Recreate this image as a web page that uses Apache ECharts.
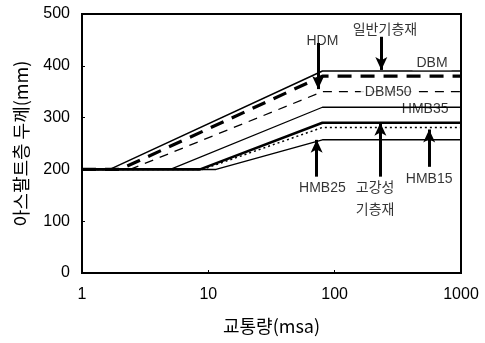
<!DOCTYPE html>
<html><head><meta charset="utf-8">
<script src="https://cdn.jsdelivr.net/npm/echarts@6/dist/echarts.min.js"></script>
<style>html,body{margin:0;padding:0;background:#fff}#c{width:485px;height:343px}</style>
</head><body><div id="c"></div>
<script>
// Data (traffic in msa, thickness in mm)
const xTicks = ['1', '10', '100', '1000'];
const dbmX = [1, 1.66, 80, 1000];      const dbmY = [200, 200, 390, 390];
const hdmX = [1, 2.0, 80, 1000];       const hdmY = [200, 200, 380, 380];
const dbm50X = [1, 2.4, 80, 1000];     const dbm50Y = [200, 200, 350, 350];
const hmb35X = [1, 5.0, 80, 1000];     const hmb35Y = [200, 200, 320, 320];
const hiX = [1, 8.6, 80, 1000];        const hiY = [200, 200, 290, 290];
const hmb15X = [1, 9.0, 80, 1000];     const hmb15Y = [200, 200, 281, 281];
const hmb25X = [1, 11.5, 80, 1000];    const hmb25Y = [200, 200, 257, 257];

const labelNames = ['HDM', '일반기층재', 'DBM', 'DBM50', 'HMB35', 'HMB25', '고강성', '기층재', 'HMB15'];
const labelX = [80, 250, 590, 265, 520, 80, 209, 209, 560];
const labelY = [448, 469, 405, 350, 317, 164, 164, 122, 181];
const labelBg = [false, false, true, true, false, false, false, false, false];

const arrowX = [74, 234, 72, 230, 560];
const arrowFromY = [444, 456, 186, 186, 205];
const arrowToY = [355, 392, 257, 290, 277];

function pts(xs, ys){ return xs.map((x,i)=>[x, ys[i]]); }
function lineSeries(xs, ys, width, type, z){
  return {type:'line', data:pts(xs,ys), symbol:'none', silent:true, z:z||2,
    lineStyle:{color:'#000', width:width, type:type}};
}
const chart = echarts.init(document.getElementById('c'));
const fontLatin = 'Liberation Sans, Arial, sans-serif';
const fontKr = 'Noto Sans CJK KR, sans-serif';
chart.setOption({
  animation:false,
  backgroundColor:'#fff',
  grid:{left:82, right:24, top:14, bottom:70, show:true, borderColor:'#000', borderWidth:2},
  xAxis:{type:'log', logBase:10, min:1, max:1000,
    axisLine:{show:true, lineStyle:{color:'#000', width:2}},
    axisTick:{show:true, inside:true, length:3, lineStyle:{color:'#000'}},
    minorTick:{show:false}, splitLine:{show:false},
    axisLabel:{color:'#000', fontSize:16, fontFamily:fontLatin, margin:14,
      formatter:v=>{ const i=Math.round(Math.log10(v)); return xTicks[i]!==undefined?xTicks[i]:''; }},
    name:'교통량(msa)', nameLocation:'middle', nameGap:44,
    nameTextStyle:{color:'#000', fontSize:18, fontFamily:fontKr}},
  yAxis:{type:'value', min:0, max:500, interval:100,
    axisLine:{show:true, lineStyle:{color:'#000', width:2}},
    axisTick:{show:true, inside:true, length:3, lineStyle:{color:'#000'}},
    splitLine:{show:false},
    axisLabel:{color:'#000', fontSize:16, fontFamily:fontLatin, margin:12},
    name:'아스팔트층 두께(mm)', nameLocation:'middle', nameGap:52,
    nameTextStyle:{color:'#000', fontSize:18, fontFamily:fontKr}},
  series:[
    lineSeries(dbmX, dbmY, 1.5, 'solid'),
    lineSeries(hdmX, hdmY, 3.2, [14, 9]),
    lineSeries(dbm50X, dbm50Y, 1.3, [9, 7]),
    lineSeries(hmb35X, hmb35Y, 1.3, 'solid'),
    lineSeries(hiX, hiY, 2.6, 'solid'),
    lineSeries(hmb15X, hmb15Y, 1.5, [2, 3]),
    lineSeries(hmb25X, hmb25Y, 1.5, 'solid'),
    {type:'line', data:[], silent:true, z:4,
      markLine:{silent:true, animation:false, symbolSize:[9,13], label:{show:false},
        lineStyle:{color:'#000', width:3, type:'solid'},
        data: arrowX.map((x,i)=>[
          {coord:[x, arrowFromY[i]], symbol:'none'},
          {coord:[x, arrowToY[i]], symbol:'arrow'}])}},
    {type:'scatter', silent:true, z:5, symbolSize:0,
      data: labelNames.map((n,i)=>({value:[labelX[i], labelY[i]], name:n,
        label:{backgroundColor: labelBg[i] ? '#fff' : 'transparent'}})),
      label:{show:true, position:'inside', color:'#000', fontSize:14,
        formatter:p=>p.name, padding:[0,4],
        fontFamily:'Liberation Sans, Noto Sans CJK KR, sans-serif'}}
  ]
});
</script></body></html>
